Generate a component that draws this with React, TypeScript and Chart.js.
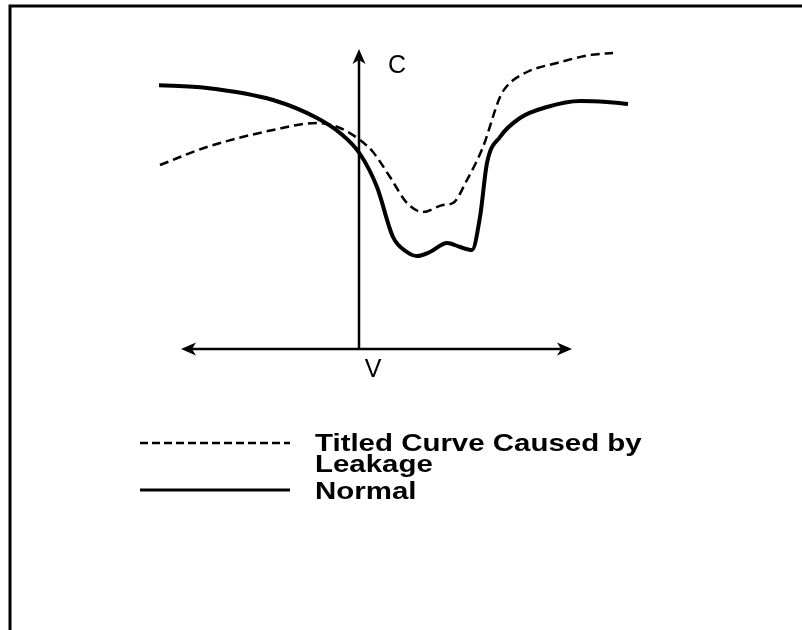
import React, { useEffect, useRef } from "react";
import { Chart, registerables } from "chart.js";

Chart.register(...registerables);

// Normal C-V curve (V, C)
const normalV = [-10.15, -7.6, -4.3, -2.1, -0.95, 0.05, 0.9, 1.7, 2.4, 2.9, 3.55, 4.4, 5.05, 5.65, 6.05, 6.4, 7.05, 8.05, 9.4, 11.05, 12.4, 13.45];
const normalC = [13.2, 13.05, 12.45, 11.55, 10.8, 9.75, 8.1, 5.6, 4.85, 4.65, 4.85, 5.3, 5.1, 4.95, 6.6, 9.3, 10.6, 11.55, 12.1, 12.4, 12.35, 12.25];

// Tilted curve caused by leakage (V, C)
const leakV = [-9.95, -7.6, -4.3, -2.1, -0.95, 0.05, 0.7, 1.55, 2.4, 3.2, 4.2, 4.7, 5.4, 6.2, 7.05, 7.4, 8.4, 9.9, 11.55, 12.7];
const leakC = [9.2, 10.1, 10.95, 11.3, 11.05, 10.45, 9.85, 8.6, 7.3, 6.85, 7.2, 7.3, 8.45, 10.1, 12.6, 13.15, 13.85, 14.3, 14.7, 14.8];

const axisVRange = [-8.9, 10.65];
const axisCRange = [0, 15];
const axisLabels = { c: "C", v: "V" };
const legendLeak = ["Titled Curve Caused by", "Leakage"];
const legendNormal = "Normal";

const zip = (xs: number[], ys: number[]) => xs.map((x, i) => ({ x, y: ys[i] }));

const decorPlugin = {
  id: "decor",
  afterDraw(chart: any) {
    const ctx = chart.ctx as CanvasRenderingContext2D;
    const xs = chart.scales.x;
    const ys = chart.scales.y;
    ctx.save();
    ctx.strokeStyle = "#000";
    ctx.fillStyle = "#000";
    ctx.setLineDash([]);

    // frame
    ctx.lineWidth = 3;
    ctx.beginPath();
    ctx.moveTo(10, 630);
    ctx.lineTo(10, 6);
    ctx.lineTo(802, 6);
    ctx.stroke();

    // axes
    const ox = xs.getPixelForValue(0);
    const oy = ys.getPixelForValue(0);
    const topY = ys.getPixelForValue(axisCRange[1]);
    const lx = xs.getPixelForValue(axisVRange[0]);
    const rx = xs.getPixelForValue(axisVRange[1]);
    ctx.lineWidth = 2.5;
    ctx.beginPath();
    ctx.moveTo(ox, oy);
    ctx.lineTo(ox, topY + 10);
    ctx.moveTo(lx + 10, oy);
    ctx.lineTo(rx - 10, oy);
    ctx.stroke();
    const arrow = (tx: number, ty: number, dx: number, dy: number) => {
      const L = 15, W = 6.5;
      const px = -dy, py = dx;
      ctx.beginPath();
      ctx.moveTo(tx, ty);
      ctx.lineTo(tx - dx * L + px * W, ty - dy * L + py * W);
      ctx.lineTo(tx - dx * (L - 4), ty - dy * (L - 4));
      ctx.lineTo(tx - dx * L - px * W, ty - dy * L - py * W);
      ctx.closePath();
      ctx.fill();
    };
    arrow(ox, topY, 0, -1);
    arrow(lx, oy, -1, 0);
    arrow(rx, oy, 1, 0);

    ctx.font = "25px 'Liberation Sans', Arial, sans-serif";
    ctx.textAlign = "center";
    ctx.textBaseline = "middle";
    ctx.fillText(axisLabels.c, ox + 38, topY + 17);
    ctx.fillText(axisLabels.v, ox + 14, oy + 21);

    // legend
    ctx.lineWidth = 2.5;
    ctx.setLineDash([8, 4]);
    ctx.beginPath();
    ctx.moveTo(140, 443);
    ctx.lineTo(290, 443);
    ctx.stroke();
    ctx.setLineDash([]);
    ctx.lineWidth = 3;
    ctx.beginPath();
    ctx.moveTo(140, 490);
    ctx.lineTo(290, 490);
    ctx.stroke();

    ctx.font = "bold 23px 'Liberation Sans', Arial, sans-serif";
    ctx.textAlign = "left";
    ctx.textBaseline = "alphabetic";
    const wide = (t: string, x: number, y: number) => {
      ctx.save();
      ctx.translate(x, y);
      ctx.scale(1.28, 1);
      ctx.fillText(t, 0, 0);
      ctx.restore();
    };
    wide(legendLeak[0], 315, 451);
    wide(legendLeak[1], 315, 472);
    wide(legendNormal, 315, 499);
    ctx.restore();
  },
};

export default function App() {
  const ref = useRef<HTMLCanvasElement>(null);
  useEffect(() => {
    if (!ref.current) return;
    const chart = new Chart(ref.current, {
      type: "line",
      data: {
        datasets: [
          {
            label: "Normal",
            data: zip(normalV, normalC),
            borderColor: "#000",
            borderWidth: 4,
            pointRadius: 0,
            cubicInterpolationMode: "monotone",
            fill: false,
          },
          {
            label: "Titled Curve Caused by Leakage",
            data: zip(leakV, leakC),
            borderColor: "#000",
            borderWidth: 2.5,
            borderDash: [9, 5],
            pointRadius: 0,
            cubicInterpolationMode: "monotone",
            fill: false,
          },
        ],
      },
      options: {
        animation: false,
        responsive: true,
        maintainAspectRatio: false,
        layout: { padding: { left: 159, right: 163, top: 49, bottom: 281 } },
        scales: {
          x: { type: "linear", min: -10, max: 14, display: false },
          y: { type: "linear", min: 0, max: 15, display: false },
        },
        plugins: { legend: { display: false }, tooltip: { enabled: false } },
      },
      plugins: [decorPlugin],
    });
    return () => chart.destroy();
  }, []);
  return (
    <div style={{ position: "fixed", left: 0, top: 0, width: 802, height: 630, background: "#fff" }}>
      <canvas ref={ref} />
    </div>
  );
}
